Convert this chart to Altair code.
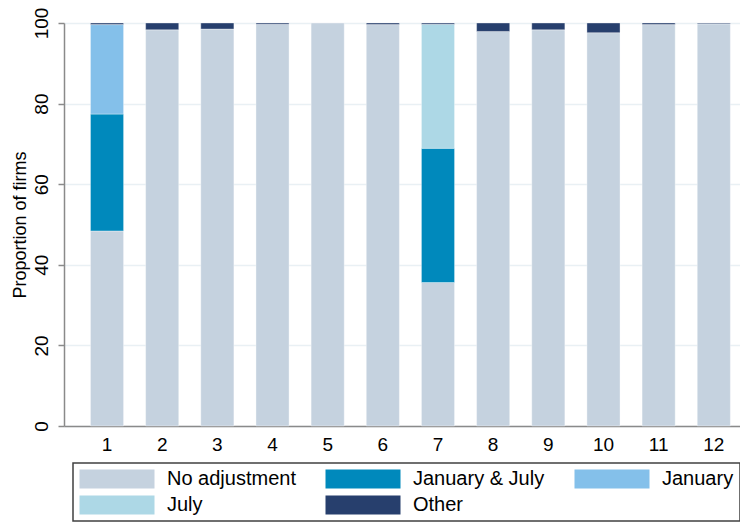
import altair as alt
import pandas as pd

months = list(range(1, 13))
categories = ["No adjustment", "January & July", "January", "July", "Other"]
colors = ["#c5d2df", "#0089bc", "#84c0ea", "#add8e6", "#273f6d"]

no_adjustment = [48.4, 98.3, 98.5, 99.7, 100.0, 99.6, 35.6, 97.9, 98.3, 97.6, 99.6, 99.8]
january_july = [29.0, 0, 0, 0, 0, 0, 33.3, 0, 0, 0, 0, 0]
january = [22.2, 0, 0, 0, 0, 0, 0, 0, 0, 0, 0, 0]
july = [0, 0, 0, 0, 0, 0, 30.8, 0, 0, 0, 0, 0]
other = [0.4, 1.7, 1.5, 0.3, 0.0, 0.4, 0.3, 2.1, 1.7, 2.4, 0.4, 0.2]

series = [no_adjustment, january_july, january, july, other]
rows = []
for idx, (cat, vals) in enumerate(zip(categories, series)):
    for m, v in zip(months, vals):
        if v > 0:
            rows.append({"month": m, "category": cat, "value": v, "idx": idx})
df = pd.DataFrame(rows)

FONT = "Liberation Sans, Arial, sans-serif"
GREY = "#8a8a8a"

chart = (
    alt.Chart(df)
    .mark_bar(stroke="white", strokeOpacity=0.35, strokeWidth=1)
    .encode(
        x=alt.X(
            "month:O",
            scale=alt.Scale(paddingInner=0.4, paddingOuter=0.4, align=0.6),
            axis=alt.Axis(
                title=None, labelAngle=0, ticks=False, labelPadding=9,
                labelFontSize=19, labelFont=FONT, labelColor="#000000",
                domainColor=GREY, domainWidth=1.5, grid=False,
            ),
        ),
        y=alt.Y(
            "value:Q",
            stack="zero",
            scale=alt.Scale(domain=[0, 100], nice=False),
            axis=alt.Axis(
                title="Proportion of firms",
                values=[0, 20, 40, 60, 80, 100],
                labelAngle=270, labelAlign="center", labelBaseline="alphabetic",
                labelPadding=11, labelFontSize=19, labelFont=FONT, labelColor="#000000",
                tickSize=6, tickColor=GREY, tickWidth=1.5,
                domainColor=GREY, domainWidth=1.5,
                gridColor="#e9f0f4", gridWidth=1.5,
                titleAngle=270, titleX=-39, titleY=201.5, titleAlign="center",
                titleBaseline="alphabetic", titleFontSize=18, titleFont=FONT,
                titleFontWeight="normal", titleColor="#000000",
            ),
        ),
        color=alt.Color(
            "category:N",
            scale=alt.Scale(domain=categories, range=colors),
            legend=alt.Legend(
                title=None, orient="none", legendX=9, legendY=440, columns=3,
                direction="horizontal",
                symbolType="M-1,-1H6.895V1H-1Z", symbolSize=361,
                symbolStrokeWidth=0, symbolOpacity=1,
                labelFontSize=20, labelFont=FONT, labelColor="#000000",
                labelOffset=68, columnPadding=29, rowPadding=6,
                strokeColor="#404040", padding=6,
                fillColor="white", labelLimit=300,
            ),
        ),
        order=alt.Order("idx:Q", sort="ascending"),
    )
    .properties(
        width=684,
        height=403,
        autosize=alt.AutoSizeParams(type="none"),
        padding={"left": 56, "top": 15, "right": -8, "bottom": 96},
    )
    .configure_view(strokeWidth=0)
    .configure_legend(strokeWidth=1.5)
)

chart.save("out.html", embed_options={"renderer": "svg", "actions": False})
